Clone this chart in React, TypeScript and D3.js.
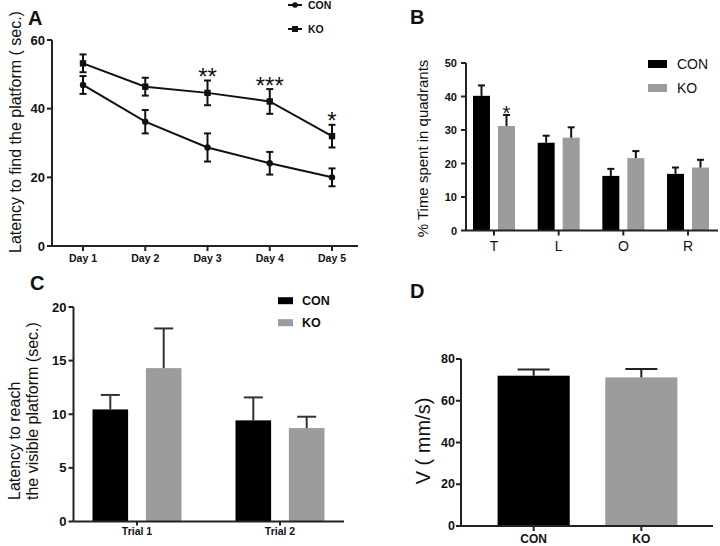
import React from "react";
import * as d3 from "d3";

// ---------- Data ----------
const days = ["Day 1", "Day 2", "Day 3", "Day 4", "Day 5"];
const conLatency = [46.9, 36.2, 28.7, 24.1, 20.0];
const conLatencyErr = [2.6, 3.4, 4.1, 3.3, 2.6];
const koLatency = [53.2, 46.4, 44.6, 42.1, 32.0];
const koLatencyErr = [2.6, 2.6, 3.6, 3.6, 3.3];
const latencySig = ["", "", "**", "***", "*"];
const latencyTicks = [0, 20, 40, 60];

const quadrants = ["T", "L", "O", "R"];
const conQuadrant = [40.2, 26.2, 16.3, 16.9];
const conQuadrantErr = [3.1, 2.1, 2.1, 1.9];
const koQuadrant = [31.2, 27.7, 21.6, 18.8];
const koQuadrantErr = [3.3, 3.1, 2.1, 2.3];
const quadrantSig = ["*", "", "", ""];
const quadrantTicks = [0, 10, 20, 30, 40, 50];

const trials = ["Trial 1", "Trial 2"];
const conVisible = [10.45, 9.43];
const conVisibleErr = [1.35, 2.14];
const koVisible = [14.3, 8.71];
const koVisibleErr = [3.7, 1.06];
const visibleTicks = [0, 5, 10, 15, 20];

const groups = ["CON", "KO"];
const speed = [72.0, 71.2];
const speedErr = [3.0, 4.0];
const speedTicks = [0, 20, 40, 60, 80];

// ---------- Styles ----------
const FONT = "'Liberation Sans', Arial, Helvetica, sans-serif";
const INK = "#111";
const AXIS = "#222";
const GRAY = "#9c9c9c";
const series = ["CON", "KO"];
const seriesColor = (s: string) => (s === "CON" ? "#000" : GRAY);

function YAxis({ scale, ticks, x, fontSize, labelGap = 4, tickLen = 5 }: any) {
  const [r0, r1] = scale.range();
  return (
    <g>
      <line x1={x} x2={x} y1={r0} y2={r1} stroke={AXIS} strokeWidth={2} />
      {ticks.map((t: number) => (
        <g key={t}>
          <line x1={x - tickLen} x2={x} y1={scale(t)} y2={scale(t)} stroke={AXIS} strokeWidth={2} />
          <text
            x={x - tickLen - labelGap + 2}
            y={scale(t)}
            textAnchor="end"
            dominantBaseline="central"
            fontFamily={FONT}
            fontWeight="bold"
            fontSize={fontSize}
            fill={INK}
          >
            {t}
          </text>
        </g>
      ))}
    </g>
  );
}

function ErrBar({ x, yTop, yBottom, cap, color = INK, both = false }: any) {
  return (
    <g stroke={color} strokeWidth={2}>
      <line x1={x} x2={x} y1={yTop} y2={yBottom} />
      <line x1={x - cap / 2} x2={x + cap / 2} y1={yTop} y2={yTop} />
      {both && <line x1={x - cap / 2} x2={x + cap / 2} y1={yBottom} y2={yBottom} />}
    </g>
  );
}

// ---------- Panel A ----------
function PanelA() {
  const x = d3.scalePoint<string>().domain(days).range([83, 332]);
  const y = d3.scaleLinear().domain([0, 60]).range([246, 40]);
  const axisX = 52;
  const line = d3
    .line<number>()
    .x((_, i) => x(days[i]) as number)
    .y((d) => y(d));
  return (
    <g>
      <text x={28} y={25} fontFamily={FONT} fontWeight="bold" fontSize={20} fill={INK}>A</text>
      <text
        transform={`translate(21,132) rotate(-90)`}
        textAnchor="middle"
        fontFamily={FONT}
        fontSize={16}
        fill={INK}
      >
        Latency to find the platform ( sec.)
      </text>
      <YAxis scale={y} ticks={latencyTicks} x={axisX} fontSize={13} />
      <line x1={axisX} x2={358} y1={y(0)} y2={y(0)} stroke={AXIS} strokeWidth={2} />
      {days.map((d) => (
        <g key={d}>
          <line x1={x(d)} x2={x(d)} y1={y(0)} y2={y(0) + 5} stroke={AXIS} strokeWidth={2} />
          <text
            x={x(d)}
            y={y(0) + 16}
            textAnchor="middle"
            fontFamily={FONT}
            fontWeight="bold"
            fontSize={10.5}
            fill={INK}
          >
            {d}
          </text>
        </g>
      ))}
      <path d={line(conLatency) as string} fill="none" stroke={INK} strokeWidth={2} />
      <path d={line(koLatency) as string} fill="none" stroke={INK} strokeWidth={2} />
      {days.map((d, i) => (
        <g key={"e" + d}>
          <ErrBar x={x(d)} yTop={y(conLatency[i] + conLatencyErr[i])} yBottom={y(conLatency[i] - conLatencyErr[i])} cap={7} both />
          <ErrBar x={x(d)} yTop={y(koLatency[i] + koLatencyErr[i])} yBottom={y(koLatency[i] - koLatencyErr[i])} cap={7} both />
          <circle cx={x(d)} cy={y(conLatency[i])} r={3.2} fill={INK} />
          <rect x={(x(d) as number) - 3.2} y={y(koLatency[i]) - 3.2} width={6.4} height={6.4} fill={INK} />
          {latencySig[i] && (
            <text
              x={x(d)}
              y={y(koLatency[i] + koLatencyErr[i]) + 4.5}
              textAnchor="middle"
              fontFamily={FONT}
              fontSize={24}
              fill={INK}
            >
              {latencySig[i]}
            </text>
          )}
        </g>
      ))}
      {/* legend */}
      {series.map((s, i) => {
        const ly = 5 + i * 24;
        return (
          <g key={s}>
            <line x1={288} x2={302} y1={ly} y2={ly} stroke={INK} strokeWidth={2} />
            {s === "CON" ? (
              <circle cx={295} cy={ly} r={2.8} fill={INK} />
            ) : (
              <rect x={292} y={ly - 3} width={6} height={6} fill={INK} />
            )}
            <text x={308} y={ly} dominantBaseline="central" fontFamily={FONT} fontWeight="bold" fontSize={10.5} fill={INK}>
              {s}
            </text>
          </g>
        );
      })}
    </g>
  );
}

// ---------- Panel B ----------
function PanelB() {
  const x = d3.scalePoint<string>().domain(quadrants).range([494, 688]);
  const sub = d3.scaleBand<string>().domain(series).range([-21, 21]).paddingInner(0.32);
  const y = d3.scaleLinear().domain([0, 50]).range([230.5, 63]);
  const axisX = 466;
  const vals: Record<string, number[]> = { CON: conQuadrant, KO: koQuadrant };
  const errs: Record<string, number[]> = { CON: conQuadrantErr, KO: koQuadrantErr };
  return (
    <g>
      <text x={410} y={24} fontFamily={FONT} fontWeight="bold" fontSize={20} fill={INK}>B</text>
      <text
        transform={`translate(428,148.5) rotate(-90)`}
        textAnchor="middle"
        fontFamily={FONT}
        fontSize={15}
        fill={INK}
      >
        % Time spent in quadrants
      </text>
      {quadrants.map((q, i) => (
        <g key={q}>
          {series.map((s) => {
            const bx = (x(q) as number) + (sub(s) as number);
            const v = vals[s][i];
            const e = errs[s][i];
            return (
              <g key={s}>
                <rect x={bx} y={y(v)} width={sub.bandwidth()} height={y(0) - y(v)} fill={seriesColor(s)} />
                <ErrBar x={bx + sub.bandwidth() / 2} yTop={y(v + e)} yBottom={y(v)} cap={7} color={INK} />
                {s === "KO" && quadrantSig[i] && (
                  <text
                    x={bx + sub.bandwidth() / 2}
                    y={y(v + e) + 5}
                    textAnchor="middle"
                    fontFamily={FONT}
                    fontSize={20}
                    fill={INK}
                  >
                    {quadrantSig[i]}
                  </text>
                )}
              </g>
            );
          })}
        </g>
      ))}
      <YAxis scale={y} ticks={quadrantTicks} x={axisX} fontSize={11} labelGap={6} />
      <line x1={axisX} x2={718} y1={y(0)} y2={y(0)} stroke={AXIS} strokeWidth={2} />
      {quadrants.map((q) => (
        <g key={"t" + q}>
          <line x1={x(q)} x2={x(q)} y1={y(0)} y2={y(0) + 5} stroke={AXIS} strokeWidth={2} />
          <text x={x(q)} y={y(0) + 20} textAnchor="middle" fontFamily={FONT} fontSize={14} fill={INK}>
            {q}
          </text>
        </g>
      ))}
      {series.map((s, i) => {
        const ly = 64 + i * 24;
        return (
          <g key={"lg" + s}>
            <rect x={648} y={ly - 4} width={19} height={8} fill={seriesColor(s)} />
            <text x={677} y={ly} dominantBaseline="central" fontFamily={FONT} fontSize={14} fill={INK}>
              {s}
            </text>
          </g>
        );
      })}
    </g>
  );
}

// ---------- Panel C ----------
function PanelC() {
  const x = d3.scalePoint<string>().domain(trials).range([137, 280]);
  const sub = d3.scaleBand<string>().domain(series).range([-44.5, 44.5]).paddingInner(0.333);
  const y = d3.scaleLinear().domain([0, 20]).range([521.5, 307]);
  const axisX = 73.5;
  const vals: Record<string, number[]> = { CON: conVisible, KO: koVisible };
  const errs: Record<string, number[]> = { CON: conVisibleErr, KO: koVisibleErr };
  return (
    <g>
      <text x={30} y={290} fontFamily={FONT} fontWeight="bold" fontSize={20} fill={INK}>C</text>
      <text transform={`translate(20,500) rotate(-90)`} textAnchor="start" fontFamily={FONT} fontSize={16} fill={INK}>
        Latency to reach
      </text>
      <text transform={`translate(38,500) rotate(-90)`} textAnchor="start" fontFamily={FONT} fontSize={16} fill={INK}>
        the visible platform (sec.)
      </text>
      {trials.map((t, i) => (
        <g key={t}>
          {series.map((s) => {
            const bx = (x(t) as number) + (sub(s) as number);
            const v = vals[s][i];
            const e = errs[s][i];
            return (
              <g key={s}>
                <rect x={bx} y={y(v)} width={sub.bandwidth()} height={y(0) - y(v)} fill={seriesColor(s)} />
                <ErrBar x={bx + sub.bandwidth() / 2} yTop={y(v + e)} yBottom={y(v)} cap={19} color="#333" />
              </g>
            );
          })}
        </g>
      ))}
      <YAxis scale={y} ticks={visibleTicks} x={axisX} fontSize={13} />
      <line x1={axisX} x2={344} y1={y(0)} y2={y(0)} stroke={AXIS} strokeWidth={2} />
      {trials.map((t) => (
        <g key={"t" + t}>
          <line x1={x(t)} x2={x(t)} y1={y(0)} y2={y(0) + 4} stroke={AXIS} strokeWidth={2} />
          <text x={x(t)} y={y(0) + 13} textAnchor="middle" fontFamily={FONT} fontWeight="bold" fontSize={10.5} fill={INK}>
            {t}
          </text>
        </g>
      ))}
      {series.map((s, i) => {
        const ly = 300.7 + i * 22;
        return (
          <g key={"lg" + s}>
            <rect x={278} y={ly - 3.5} width={15} height={7} fill={seriesColor(s)} />
            <text x={302} y={ly} dominantBaseline="central" fontFamily={FONT} fontWeight="bold" fontSize={12.5} fill={INK}>
              {s}
            </text>
          </g>
        );
      })}
    </g>
  );
}

// ---------- Panel D ----------
function PanelD() {
  const x = d3.scaleBand<string>().domain(groups).range([461, 714]).paddingInner(0.33).paddingOuter(0.34);
  const y = d3.scaleLinear().domain([0, 80]).range([526, 359]);
  const axisX = 461;
  return (
    <g>
      <text x={410} y={298} fontFamily={FONT} fontWeight="bold" fontSize={20} fill={INK}>D</text>
      <text transform={`translate(430,441) rotate(-90)`} textAnchor="middle" fontFamily={FONT} fontSize={20} fill={INK}>
        V ( mm/s)
      </text>
      {groups.map((g, i) => {
        const bx = x(g) as number;
        return (
          <g key={g}>
            <rect x={bx} y={y(speed[i])} width={x.bandwidth()} height={y(0) - y(speed[i])} fill={seriesColor(g)} />
            <ErrBar x={bx + x.bandwidth() / 2} yTop={y(speed[i] + speedErr[i])} yBottom={y(speed[i])} cap={32} color="#222" />
          </g>
        );
      })}
      <YAxis scale={y} ticks={speedTicks} x={axisX} fontSize={12.5} labelGap={3} />
      <line x1={axisX} x2={713} y1={y(0)} y2={y(0)} stroke={AXIS} strokeWidth={2} />
      {groups.map((g) => {
        const cx = (x(g) as number) + x.bandwidth() / 2;
        return (
          <g key={"t" + g}>
            <line x1={cx} x2={cx} y1={y(0)} y2={y(0) + 5} stroke={AXIS} strokeWidth={2} />
            <text x={cx} y={y(0) + 17} textAnchor="middle" fontFamily={FONT} fontWeight="bold" fontSize={12} fill={INK}>
              {g}
            </text>
          </g>
        );
      })}
    </g>
  );
}

export default function App() {
  return (
    <svg
      width={720}
      height={546}
      viewBox="0 0 720 546"
      style={{ position: "absolute", left: 0, top: 0, background: "#fff" }}
    >
      <rect width={720} height={546} fill="#fff" />
      <PanelA />
      <PanelB />
      <PanelC />
      <PanelD />
    </svg>
  );
}
